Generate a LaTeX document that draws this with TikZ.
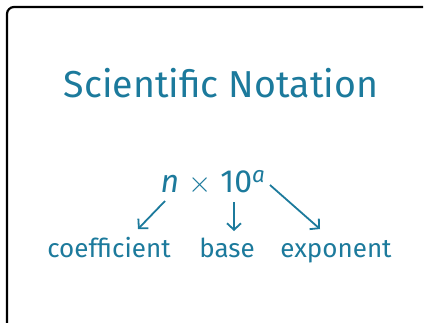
\documentclass[tikz,border=0pt]{standalone}
\usepackage{fontspec}
\setmainfont{Fira Sans}
\usetikzlibrary{arrows.meta}
\definecolor{teal1}{RGB}{28,122,156}
\tikzset{
  lbl/.style={text=teal1, inner sep=0pt, anchor=base},
  conn/.style={draw=teal1, line width=1.8pt, -{Straight Barb[length=6.5pt,width=14pt,line width=1.8pt]}},
}
\begin{document}
\begin{tikzpicture}[x=1pt,y=-1pt]
\useasboundingbox (0,0) rectangle (425,322);
\draw[line width=2.2pt, rounded corners=7pt] (7,330) -- (7,7) -- (423,7);
\node[lbl, font=\fontsize{37.5}{40}\selectfont] (title) at (221,97) {Scientific Notation};
\node[lbl, font=\fontsize{32}{36}\selectfont] (formula) at (213,192) {\textit{n}\hspace{9pt}\raisebox{-0.5pt}{\scalebox{1.2}{$\times$}}\hspace{9pt}10\textsuperscript{\textit{a}}};
\node[lbl, font=\fontsize{26}{30}\selectfont] (coef) at (109,257) {coefficient};
\node[lbl, font=\fontsize{26}{30}\selectfont] (base) at (227,257) {base};
\node[lbl, font=\fontsize{26}{30}\selectfont] (expo) at (336,257) {exponent};
\coordinate (c1) at (165,201);
\coordinate (c2) at (138,229);
\coordinate (b1) at (234,202);
\coordinate (b2) at (234,231);
\coordinate (e1) at (270,185);
\coordinate (e2) at (320,229);
\draw[conn] (c1) -- (c2);
\draw[conn] (b1) -- (b2);
\draw[conn] (e1) -- (e2);
\end{tikzpicture}
\end{document}
